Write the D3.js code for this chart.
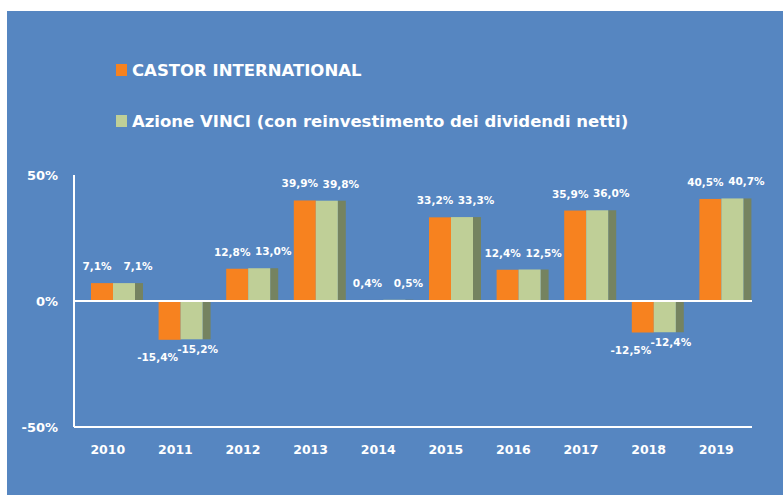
<!DOCTYPE html>
<html>
<head>
<meta charset="utf-8">
<script src="https://cdn.jsdelivr.net/npm/d3@7"></script>
<style>
  body { margin: 0; background: #fff; }
  svg { display: block; }
  text { font-family: "DejaVu Sans", sans-serif; font-weight: bold; fill: #fff; }
</style>
</head>
<body>
<svg id="chart" width="783" height="495"></svg>
<script>
// data
var years = ["2010", "2011", "2012", "2013", "2014", "2015", "2016", "2017", "2018", "2019"];
var castor = [7.1, -15.4, 12.8, 39.9, 0.4, 33.2, 12.4, 35.9, -12.5, 40.5];
var vinci = [7.1, -15.2, 13.0, 39.8, 0.5, 33.3, 12.5, 36.0, -12.4, 40.7];
var seriesNames = ["CASTOR INTERNATIONAL", "Azione VINCI (con reinvestimento dei dividendi netti)"];
var yTicks = [-50, 0, 50];

var colors = ["#f7821f", "#bfcf97"];
var sideColor = "#758360";

var svg = d3.select("#chart");

svg.append("rect")
    .attr("x", 7).attr("y", 11)
    .attr("width", 783 - 7).attr("height", 495 - 11)
    .attr("fill", "#5686c1");

var x = d3.scaleBand().domain(years).range([74, 750]);
var x1 = d3.scaleBand().domain([0, 1]).range([17, 61]);
var y = d3.scaleLinear().domain([-50, 50]).range([427, 175]);

// italian style: comma decimal, plain hyphen
function fmt(v) { return (v < 0 ? "-" : "") + Math.abs(v).toFixed(1).replace(".", ",") + "%"; }

var rows = years.map(function(yr, i) { return {year: yr, vals: [castor[i], vinci[i]]}; });

// bars
var groups = svg.append("g").selectAll("g")
    .data(rows)
    .enter().append("g")
        .attr("transform", function(d) { return "translate(" + x(d.year) + ",0)"; });

// dark side face next to the green bar
groups.append("rect")
    .attr("x", x1(1) + x1.bandwidth())
    .attr("width", 8)
    .attr("y", function(d) { return y(Math.max(0, d.vals[1])); })
    .attr("height", function(d) { return Math.abs(y(d.vals[1]) - y(0)); })
    .attr("fill", sideColor);

groups.selectAll("rect.bar")
    .data(function(d) { return d.vals; })
    .enter().append("rect")
        .attr("class", "bar")
        .attr("x", function(d, i) { return x1(i); })
        .attr("width", x1.bandwidth())
        .attr("y", function(d) { return y(Math.max(0, d)); })
        .attr("height", function(d) { return Math.abs(y(d) - y(0)); })
        .attr("fill", function(d, i) { return colors[i]; });

// axis lines
svg.append("line")
    .attr("x1", 74).attr("x2", 74)
    .attr("y1", y(50)).attr("y2", y(-50))
    .attr("stroke", "#fff").attr("stroke-width", 2);
[0, -50].forEach(function(v) {
    svg.append("line")
        .attr("x1", 74).attr("x2", 752)
        .attr("y1", y(v)).attr("y2", y(v))
        .attr("stroke", "#fff").attr("stroke-width", 2);
});

// y tick labels
svg.append("g").selectAll("text")
    .data(yTicks)
    .enter().append("text")
        .attr("x", 58)
        .attr("y", function(d) { return y(d) + 5; })
        .attr("text-anchor", "end")
        .attr("font-size", 13)
        .text(function(d) { return d + "%"; });

// x labels
svg.append("g").selectAll("text")
    .data(years)
    .enter().append("text")
        .attr("x", function(d) { return x(d) + x.bandwidth() / 2; })
        .attr("y", 454)
        .attr("text-anchor", "middle")
        .attr("font-size", 12.5)
        .text(function(d) { return d; });

// data labels
var posShift = [-5, 14];
var negShift = [-12, 6];
groups.selectAll("text")
    .data(function(d) { return d.vals; })
    .enter().append("text")
        .attr("x", function(d, i) {
            return x1(i) + x1.bandwidth() / 2 + (d >= 0 ? posShift[i] : negShift[i]);
        })
        .attr("y", function(d, i) { return d >= 0 ? y(d) - 13 : y(d) + (i == 0 ? 21 : 14); })
        .attr("text-anchor", "middle")
        .attr("font-size", 10.5)
        .text(function(d) { return fmt(d); });

// legend
var legend = svg.append("g").selectAll("g")
    .data(seriesNames)
    .enter().append("g")
        .attr("transform", function(d, i) { return "translate(116," + (64 + i * 51) + ")"; });
legend.append("rect")
    .attr("width", 11).attr("height", 12)
    .attr("fill", function(d, i) { return colors[i]; });
legend.append("text")
    .attr("x", 16).attr("y", 11.5)
    .attr("font-size", 16.5)
    .text(function(d) { return d; });
</script>
</body>
</html>
